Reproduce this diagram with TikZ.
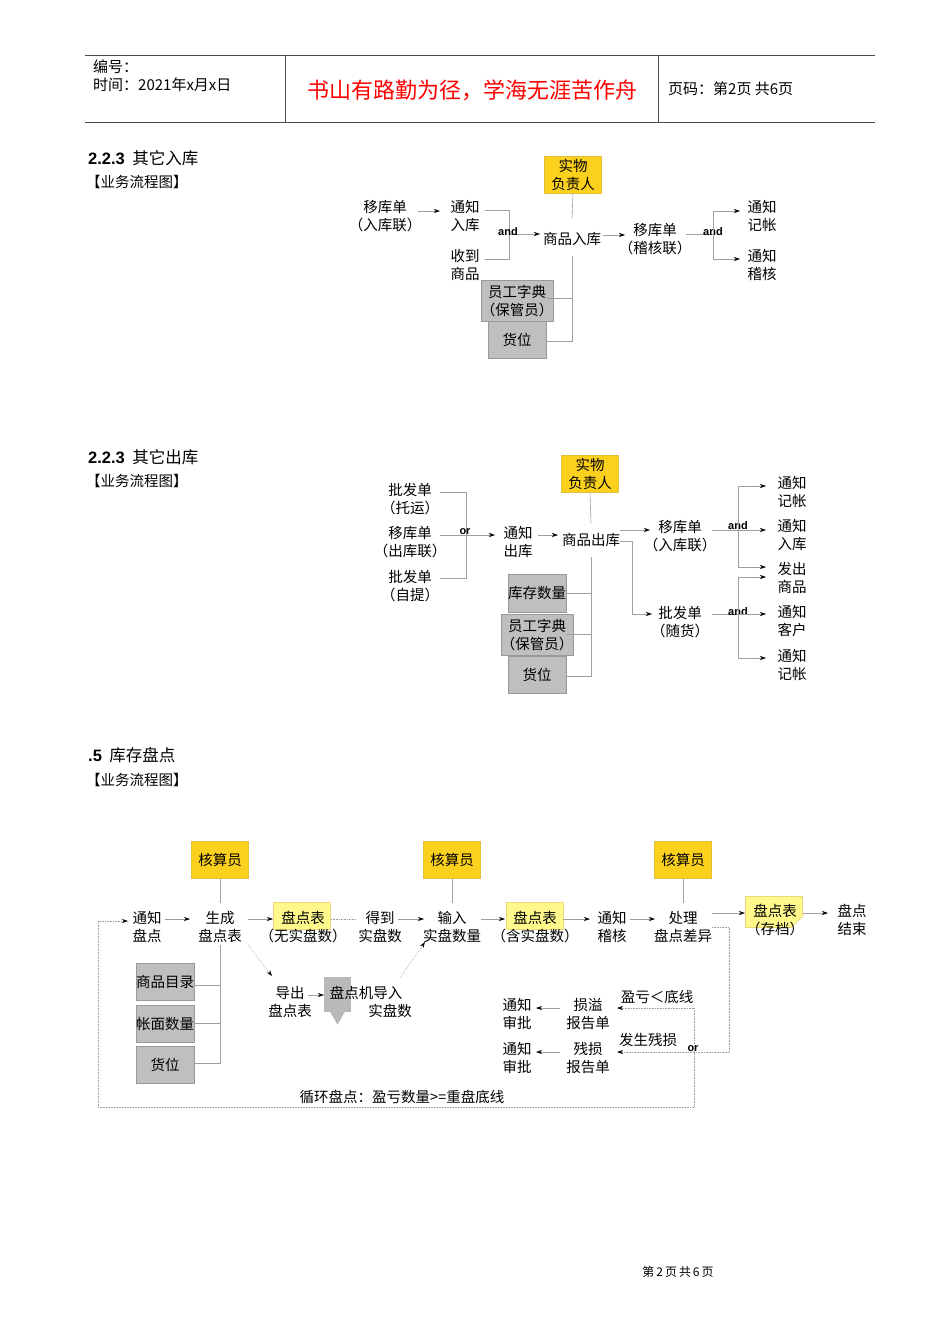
\documentclass[tikz,border=0pt]{standalone}
\usepackage{fontspec}
\setmainfont{Noto Sans CJK SC}
\newfontfamily\latinb{Liberation Sans}
\usetikzlibrary{arrows.meta,shapes.geometric}
\begin{document}
\begin{tikzpicture}[x=1pt,y=-1pt,
  every node/.style={font=\fontsize{14.5}{18}\selectfont,align=center,inner sep=0pt},
  ln/.style={draw=gray!75,line width=0.6pt},
  arr/.style={ln,-{Stealth[length=6pt,width=4pt,black]}},
  dot/.style={ln,densely dotted},
  darr/.style={dot,-{Stealth[length=6pt,width=4pt,black]}},
  goldbox/.style={fill=yellow!65!orange!90,draw=yellow!50!brown,minimum width=57pt,minimum height=37pt},
  graybox/.style={fill=gray!50,draw=gray!80,minimum width=58pt},
  ltbox/.style={fill=yellow!45,draw=yellow!50!brown!60,minimum width=57pt,minimum height=27pt},
  lab/.style={font=\latinb\bfseries\fontsize{11}{12}\selectfont},
  head/.style={font=\fontsize{16.5}{18}\selectfont,anchor=west},
  sub/.style={anchor=west}]
\useasboundingbox (0,0) rectangle (950,1344);
\fill[white] (0,0) rectangle (950,1344);
% header
\draw[gray!60!black,line width=0.7pt] (85,55)--(875,55) (85,122)--(875,122) (285,55)--(285,122) (658,55)--(658,122);
\node[anchor=west,font=\fontsize{15}{17}\selectfont] (h1) at (93,67) {编号：};
\node[anchor=west,font=\fontsize{15}{17}\selectfont] (h2) at (93,85) {时间：2021年x月x日};
\node[text=red,font=\fontsize{22}{24}\selectfont] (h3) at (472,90) {书山有路勤为径，学海无涯苦作舟};
\node[anchor=west,font=\fontsize{15}{17}\selectfont] (h4) at (668,89) {页码：第2页 共6页};

% ===== section 1
\node[head] (t1) at (88,158) {{\latinb\bfseries 2.2.3} \ 其它入库};
\node[sub] (s1) at (86,182) {【业务流程图】};
\node[goldbox] (a0) at (573,175) {实物\\负责人};
\node (a1) at (385,216) {移库单\\（入库联）};
\node (a2) at (465,216) {通知\\入库};
\node (a3) at (465,265) {收到\\商品};
\node (a4) at (572,239) {商品入库};
\node (a5) at (655,239) {移库单\\（稽核联）};
\node (a6) at (762,216) {通知\\记帐};
\node (a7) at (762,265) {通知\\稽核};
\node[graybox,minimum height=41pt] (a8) at (517,301) {员工字典\\（保管员）};
\node[graybox,minimum height=37pt] (a9) at (517,340) {货位};
\draw[arr] (418,211)--(440,211);
\draw[ln] (485,210)-|(509,259)--(485,259);
\draw[arr] (509,234)--(540,234);
\node[lab] (and1) at (508,232) {and};
\draw[ln] (a0.south)--(572,218);
\draw[ln] (572,256)--(572,341)--(547,341) (572,298)--(547,298);
\draw[arr] (603,235)--(625,235);
\draw[ln] (686,234)--(713,234);
\node[lab] (and2) at (713,232) {and};
\draw[arr] (713,234)|-(740,211);
\draw[arr] (713,234)|-(740,259);

% ===== section 2
\node[head] (t2) at (88,457) {{\latinb\bfseries 2.2.3} \ 其它出库};
\node[sub] (s2) at (86,481) {【业务流程图】};
\node[goldbox] (b0) at (590,474) {实物\\负责人};
\node (b1) at (410,499) {批发单\\（托运）};
\node (b2) at (410,542) {移库单\\（出库联）};
\node (b3) at (410,586) {批发单\\（自提）};
\node (b4) at (518,542) {通知\\出库};
\node (b5) at (591,540) {商品出库};
\node (b6) at (680,536) {移库单\\（入库联）};
\node (b7) at (680,622) {批发单\\（随货）};
\node (c1) at (792,492) {通知\\记帐};
\node (c2) at (792,535) {通知\\入库};
\node (c3) at (792,578) {发出\\商品};
\node (c4) at (792,621) {通知\\客户};
\node (c5) at (792,665) {通知\\记帐};
\node[graybox,minimum height=38pt] (b8) at (537,593) {库存数量};
\node[graybox,minimum height=41pt] (b9) at (537,635) {员工字典\\（保管员）};
\node[graybox,minimum height=37pt] (b10) at (537,675) {货位};
\draw[ln] (440,492)-|(466,578)--(440,578);
\draw[arr] (440,535)--(495,535);
\node[lab] (or1) at (465,532) {or};
\draw[arr] (538,535)--(558,535);
\draw[ln] (b0.south)--(591,523);
\draw[ln] (591,557)--(591,676)--(566,676) (591,593)--(566,593) (591,634)--(566,634);
\draw[arr] (620,530)--(650,530);
\draw[arr] (620,541)-|(632,614)--(652,614);
\draw[ln] (712,530)--(738,530);
\node[lab] (and3) at (738,526) {and};
\draw[arr] (738,530)|-(766,486);
\draw[arr] (738,530)--(766,530);
\draw[arr] (738,530)|-(766,567);
\draw[ln] (712,614)--(738,614);
\node[lab] (and4) at (738,612) {and};
\draw[arr] (738,614)|-(766,577);
\draw[arr] (738,614)--(766,614);
\draw[arr] (738,614)|-(766,658);

% ===== section 3
\node[head] (t3) at (88,755) {{\latinb\bfseries .5} \ 库存盘点};
\node[sub] (s3) at (86,780) {【业务流程图】};
\node[goldbox] (k1) at (220,860) {核算员};
\node[goldbox] (k2) at (452,860) {核算员};
\node[goldbox] (k3) at (683,860) {核算员};
\node[ltbox] (p1) at (302,916) {};
\node[ltbox] (p2) at (535,916) {};
\node[ltbox,minimum height=31pt] (p3) at (774,912) {};
\fill[white] (803,916)--(803,928)--(791,928)--cycle;
\draw[yellow!50!brown!60] (803,916)--(791,928);
\node (m1) at (147,927) {通知\\盘点};
\node (m2) at (220,927) {生成\\盘点表};
\node (m3) at (303,927) {盘点表\\（无实盘数）};
\node (m4) at (380,927) {得到\\实盘数};
\node (m5) at (452,927) {输入\\实盘数量};
\node (m6) at (535,927) {盘点表\\（含实盘数）};
\node (m7) at (612,927) {通知\\稽核};
\node (m8) at (683,927) {处理\\盘点差异};
\node (m9) at (775,920) {盘点表\\（存档）};
\node (m10) at (852,920) {盘点\\结束};
\draw[arr] (165,919)--(190,919);
\draw[arr] (248,919)--(273,919);
\draw[dot] (331,919)--(356,919);
\draw[arr] (398,919)--(424,919);
\draw[arr] (481,919)--(505,919);
\draw[arr] (563,919)--(590,919);
\draw[arr] (630,919)--(655,919);
\draw[arr] (712,913)--(745,913);
\draw[arr] (803,913)--(828,913);
\draw[ln] (k1.south)--(220,903) (k2.south)--(452,903) (k3.south)--(683,903);
\node[graybox,minimum height=37pt] (g1) at (165,982) {商品目录};
\node[graybox,minimum height=37pt] (g2) at (165,1024) {帐面数量};
\node[graybox,minimum height=37pt] (g3) at (165,1065) {货位};
\draw[ln] (220,945)--(220,1063)--(194,1063) (220,985)--(194,985) (220,1023)--(194,1023);
\node (e1) at (290,1002) {导出\\盘点表};
\draw[darr] (248,945)--(272,976);
\draw[arr] (308,995)--(324,995);
\node[fill=gray!55,draw=gray!60,shape=regular polygon,regular polygon sides=3,shape border rotate=180,minimum size=16pt] (pm0) at (337.5,1016) {};
\fill[gray!55] (324,977) rectangle (351,1012);
\node (e2) at (366,993) {盘点机导入};
\node (e3) at (390,1011) {实盘数};
\draw[darr] (400,978)--(425,942);
\node (q1) at (517,1014) {通知\\审批};
\node (q2) at (588,1014) {损溢\\报告单};
\node (q3) at (517,1058) {通知\\审批};
\node (q4) at (588,1058) {残损\\报告单};
\node (q5) at (657,997) {盈亏＜底线};
\node (q6) at (648,1040) {发生残损};
\node[lab] (or2) at (693,1049) {or};
\draw[arr] (560,1008)--(536,1008);
\draw[arr] (560,1052)--(536,1052);
\draw[darr] (712,927)-|(729,1052)--(617,1052);
\draw[darr] (694,1008)--(617,1008);
\draw[darr] (694,1008)--(694,1107)--(98,1107)--(98,921)--(128,921);
\node (loop) at (402,1097) {循环盘点：盈亏数量>=重盘底线};
\node[font=\fontsize{12}{13}\selectfont] (foot) at (678,1272) {第\,2\,页\,共\,6\,页};
\end{tikzpicture}
\end{document}
